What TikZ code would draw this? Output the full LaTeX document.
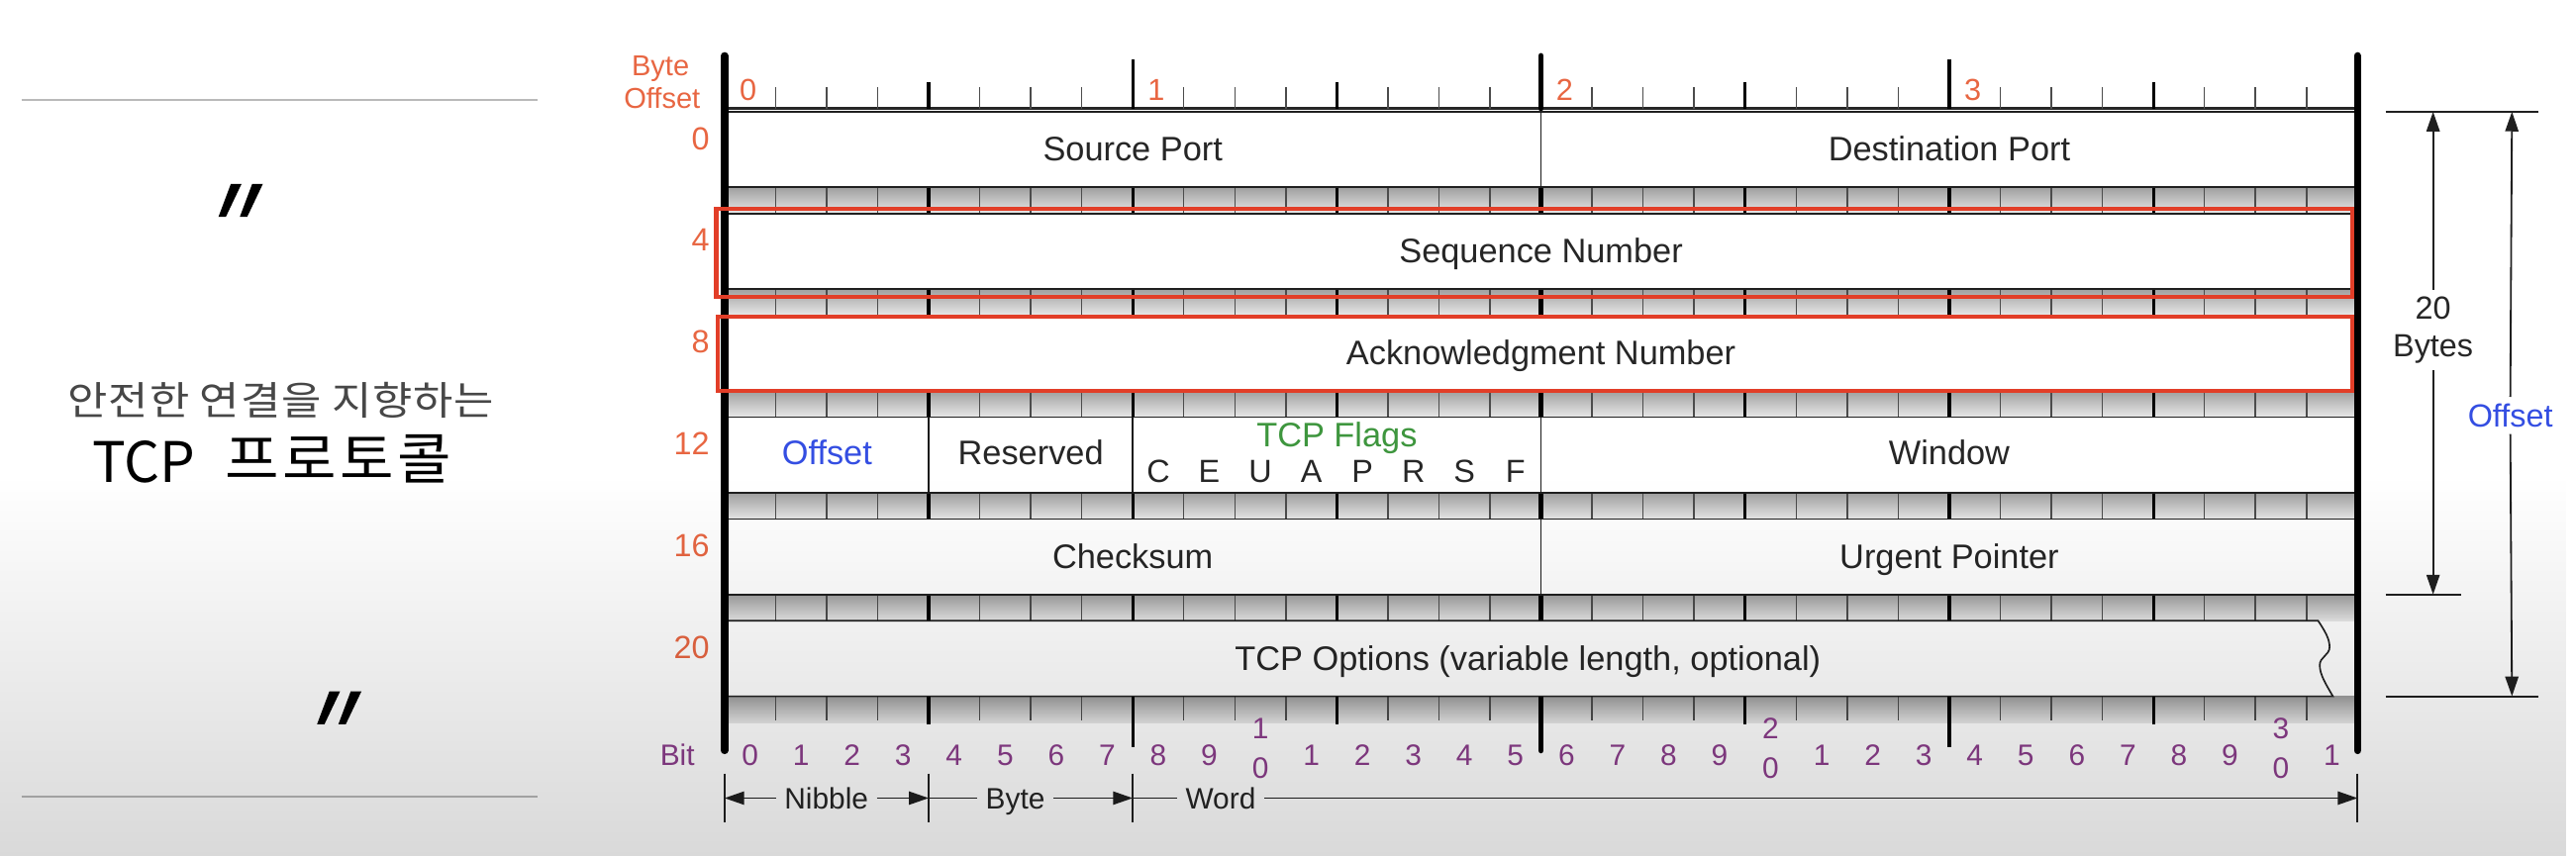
\documentclass[tikz,border=0pt]{standalone}
\usepackage{fontspec}
\setmainfont{Liberation Sans}
\newfontfamily\krfont{Noto Sans CJK KR}
\newfontfamily\krwide[FakeStretch=1.1,LetterSpace=2]{Noto Sans CJK KR}
\newfontfamily\krwider[FakeStretch=1.05,LetterSpace=6]{Noto Sans CJK KR}
\usetikzlibrary{arrows.meta,fadings}
\definecolor{ofsc}{RGB}{232,102,66}
\definecolor{bluc}{RGB}{52,78,226}
\definecolor{grnc}{RGB}{62,150,62}
\definecolor{purc}{RGB}{140,62,140}
\definecolor{hlc}{RGB}{226,62,40}
\definecolor{txtc}{RGB}{38,38,38}
\newcommand\fsz[1]{\fontsize{#1}{#1}\selectfont}
\tikzset{
  lbl/.style={font=\fsz{20.7}, text=txtc, inner sep=0pt, anchor=base},
  ofslbl/.style={font=\fsz{19.5}, text=ofsc, inner sep=0pt, anchor=base east},
  bytelbl/.style={font=\fsz{18.5}, text=ofsc, inner sep=0pt, anchor=base west},
  bitlbl/.style={font=\fsz{18}, text=purc, inner sep=0pt, anchor=base},
  dimlbl/.style={font=\fsz{18}, text=txtc, inner ysep=0pt, inner xsep=5pt, anchor=base},
  rowbox/.style={fill=white, draw=gray!25!black, line width=1pt},
  bandshade/.style={top color=gray!75, bottom color=gray!18},
  tickthin/.style={draw=gray!60!black, line width=0.9pt},
  ticknib/.style={draw=black, line width=1.9pt},
  tickmid/.style={draw=black, line width=3.5pt, line cap=round},
  sidebar/.style={draw=black, line width=4.5pt, line cap=round},
  sepline/.style={draw=gray!20!black, line width=1.1pt},
  dimline/.style={draw=gray!25!black, line width=1.1pt},
  arrowline/.style={dimline, -{Triangle[length=12pt,width=8pt]}},
  hlbox/.style={draw=hlc, line width=2.5pt},
}
\newcommand\tickrow[5]{%
  \foreach \i in {1,...,31} {
    \pgfmathtruncatemacro\mq{mod(\i,4)}
    \pgfmathtruncatemacro\mo{mod(\i,8)}
    \pgfmathsetmacro\xx{441+31.0625*\i}
    \ifnum\i=16 \draw[tickmid] (\xx,#1) -- (\xx,#5);
    \else\ifnum\mo=0 \draw[ticknib] (\xx,#1) -- (\xx,#4);
    \else\ifnum\mq=0 \draw[ticknib] (\xx,#1) -- (\xx,#3);
    \else \draw[tickthin] (\xx,#1) -- (\xx,#2);
    \fi\fi\fi
  }}
\begin{document}
\begin{tikzpicture}[x=1pt,y=-1pt]
\useasboundingbox (0,0) rectangle (1568,521);
\fill[white] (0,0) rectangle (1568,521);

% ---------- left panel ----------
\coordinate (lt1) at (13,61); \coordinate (lt2) at (327,61);
\coordinate (lb1) at (13,485); \coordinate (lb2) at (327,485);
\draw[gray!55, line width=1.2pt] (lt1) -- (lt2);
\draw[gray!55, line width=1.2pt] (lb1) -- (lb2);
\foreach \qx/\qy in {133/132, 193/441} {
  \foreach \d in {0,13} {
    \fill[black] (\qx+\d,\qy) -- (\qx+\d+4.5,\qy) -- (\qx+\d+14,\qy-20) -- (\qx+\d+7.5,\qy-20) -- cycle;
  }
}
\node[font=\krwide\fsz{24}, text=txtc!85!white] (subt) at (171,244) {안전한 연결을 지향하는};
\node[font=\krfont\fsz{34}, text=black, anchor=base west, inner sep=0pt] (tcp) at (56,294) {TCP};
\node[font=\krwider\fsz{34}, text=black, anchor=base west, inner sep=0pt] (prt) at (137,292) {프로토콜};

% ---------- header ----------
\node[font=\fsz{17.5}, text=ofsc, inner sep=0pt, anchor=base] (bo1) at (402,46) {Byte};
\node[font=\fsz{17.5}, text=ofsc, inner sep=0pt, anchor=base] (bo2) at (403,66) {Offset};
\draw[gray!30!black, line width=1.3pt] (441,66) -- (1435,66);
\tickrow{66}{53}{50}{36}{34}
\foreach \b in {0,...,3} \node[bytelbl] (b\b) at ({441+248.5*\b+9},61) {\b};

% ---------- bands ----------
\foreach \k in {0,...,4} {
  \pgfmathsetmacro\tb{68+62*\k+46}
  \shade[bandshade] (441,\tb) rectangle (1435,\tb+16);
  \tickrow{\tb}{\tb+16}{\tb+16}{\tb+16}{\tb+16}
}
\shade[bandshade] (441,424) rectangle (1435,440);
\tickrow{424}{439}{441}{455}{457}

% ---------- rows ----------
\foreach \k in {0,...,4} \draw[rowbox] (441,68+62*\k) rectangle (1435,114+62*\k);
\draw[rowbox] (441,378) -- (1411,378) .. controls (1415,384) and (1418,389) .. (1418,394)
  .. controls (1418,399) and (1412,400) .. (1412,405)
  .. controls (1412,411) and (1416,417) .. (1420,424) -- (441,424) -- cycle;

\draw[sepline] (938,68) -- (938,114);
\draw[sepline] (565.25,254) -- (565.25,300);
\draw[sepline] (689.5,254) -- (689.5,300);
\draw[sepline] (938,254) -- (938,300);
\draw[sepline] (938,316) -- (938,362);

% ---------- row texts ----------
\foreach \lab [count=\k from 0] in {0,4,8,12,16,20}
  \node[ofslbl] (o\k) at (432,{68+62*\k+23}) {\lab};
\node[lbl] (sp) at (689.5,98) {Source Port};
\node[lbl] (dp) at (1186.5,98) {Destination Port};
\node[lbl] (sn) at (938,160) {Sequence Number};
\node[lbl] (an) at (938,222) {Acknowledgment Number};
\node[lbl, text=bluc] (off) at (503.4,283) {Offset};
\node[lbl] (res) at (627.4,283) {Reserved};
\node[lbl, text=grnc] (flg) at (813.75,272) {TCP Flags};
\foreach \c [count=\n from 8] in {C,E,U,A,P,R,S,F}
  \node[lbl, font=\fsz{19.5}] (f\n) at ({441+31.0625*(\n+0.5)},294) {\c};
\node[lbl] (win) at (1186.5,283) {Window};
\node[lbl] (cks) at (689.5,346) {Checksum};
\node[lbl] (urg) at (1186.5,346) {Urgent Pointer};
\node[lbl] (opt) at (930,408) {TCP Options (variable length, optional)};

% ---------- side bars ----------
\draw[sidebar] (441,34) -- (441,457);
\draw[sidebar] (1435,34) -- (1435,457);

% ---------- highlights ----------
\draw[hlbox] (436,127) rectangle (1432,181);
\draw[hlbox] (437,193) rectangle (1432,238);

% ---------- bit labels ----------
\node[font=\fsz{18}, text=purc, anchor=base east, inner sep=0pt] (bitw) at (423,466) {Bit};
\foreach \i in {0,...,31} {
  \pgfmathtruncatemacro\dg{mod(\i,10)}
  \pgfmathtruncatemacro\tn{div(\i,10)}
  \pgfmathsetmacro\bx{441+31.0625*(\i+0.5)}
  \ifnum\dg=0 \ifnum\i>0
      \node[bitlbl] (bt\i) at (\bx,450) {\tn};
      \node[bitlbl] (bit\i) at (\bx,474) {0};
    \else
      \node[bitlbl] (bit\i) at (\bx,466) {\dg};
    \fi
  \else
    \node[bitlbl] (bit\i) at (\bx,466) {\dg};
  \fi
}

% ---------- nibble / byte / word ----------
\coordinate (d0) at (441,486);
\coordinate (d4) at (565.25,486);
\coordinate (d8) at (689.5,486);
\coordinate (d32) at (1435,486);
\foreach \x in {441,565.25,689.5,1435} \draw[dimline] (\x,471) -- (\x,501);
\node[dimlbl] (nib) at (503,492.5) {Nibble};
\node[dimlbl] (byt) at (618,492.5) {Byte};
\node[dimlbl] (wrd) at (743,492.5) {Word};
\draw[arrowline] (nib.west |- d0) -- (d0);
\draw[arrowline] (nib.east |- d4) -- (d4);
\draw[dimline] (d4) -- (byt.west |- d4);
\draw[arrowline] (byt.east |- d8) -- (d8);
\draw[dimline] (d8) -- (wrd.west |- d8);
\draw[arrowline] (wrd.east |- d32) -- (d32);

% ---------- right dimensions ----------
\coordinate (rt1) at (1452,68); \coordinate (rt2) at (1545,68);
\coordinate (rb1) at (1452,362); \coordinate (rb2) at (1498,362);
\coordinate (ro1) at (1452,424); \coordinate (ro2) at (1545,424);
\draw[dimline] (rt1) -- (rt2);
\draw[dimline] (rb1) -- (rb2);
\draw[dimline] (ro1) -- (ro2);
\coordinate (a20t) at (1481,68); \coordinate (a20b) at (1481,362);
\coordinate (aot) at (1529,68); \coordinate (aob) at (1529,424);
\node[font=\fontsize{19.5}{23}\selectfont, text=txtc, align=center, inner sep=4pt] (twb) at (1481,201) {20\\Bytes};
\node[font=\fsz{19.5}, text=bluc, inner sep=4pt] (ofr) at (1528,253) {Offset};
\draw[arrowline] (twb.north) -- (a20t);
\draw[arrowline] (twb.south) -- (a20b);
\draw[arrowline] (ofr.north) -- (aot);
\draw[arrowline] (ofr.south) -- (aob);

% ---------- bottom vignette ----------
\fill[black, fill opacity=0.15, path fading=north] (0,290) rectangle (1568,521);
\end{tikzpicture}
\end{document}
